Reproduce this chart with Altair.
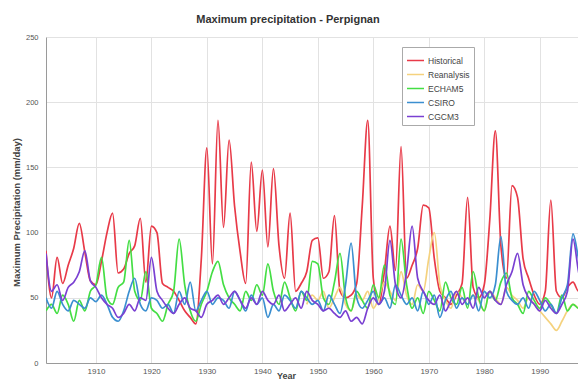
import altair as alt
import pandas as pd

years = list(range(1901, 2000))

historical = [86, 50, 81, 61, 75, 88, 107, 85, 63, 60,
              78, 100, 115, 69, 72, 84, 90, 111, 62, 105,
              100, 61, 58, 55, 48, 40, 35, 30, 80, 165,
              76, 186, 104, 171, 120, 85, 61, 154, 101, 148,
              89, 149, 90, 65, 115, 55, 61, 70, 94, 96,
              65, 70, 113, 55, 50, 52, 61, 120, 186, 65,
              45, 70, 105, 71, 166, 65, 75, 88, 121, 119,
              80, 55, 50, 45, 52, 61, 127, 58, 50, 60,
              110, 178, 90, 65, 136, 127, 80, 65, 52, 45,
              55, 125, 55, 50, 58, 62, 55, 58, 50]

echam5 = [40, 45, 38, 52, 45, 32, 48, 40, 55, 60,
          81, 50, 45, 58, 62, 94, 55, 48, 70, 42,
          38, 32, 45, 55, 95, 60, 40, 32, 45, 55,
          70, 78, 60, 50, 45, 40, 55, 48, 60, 52,
          76, 55, 45, 62, 50, 40, 55, 48, 78, 76,
          50, 45, 62, 84, 50, 40, 55, 48, 42, 60,
          50, 75, 52, 45, 95, 60, 42, 50, 38, 55,
          48, 40, 62, 50, 45, 58, 42, 70, 50, 40,
          55, 48, 62, 69, 50, 45, 38, 55, 48, 42,
          50, 45, 38, 52, 40, 45, 42, 45, 40]

csiro = [50, 42, 55, 45, 40, 48, 45, 42, 50, 47,
         52, 45, 35, 32, 40, 55, 65, 45, 40, 50,
         48, 42, 45, 38, 55, 45, 62, 40, 48, 55,
         45, 50, 48, 42, 55, 48, 40, 52, 45, 50,
         35, 45, 40, 52, 48, 42, 55, 50, 45, 48,
         40, 52, 45, 38, 60, 92, 50, 42, 48, 55,
         45, 50, 42, 60, 52, 45, 50, 40, 55, 45,
         52, 35, 48, 55, 42, 50, 45, 52, 40, 55,
         50, 60, 97, 55, 48, 45, 50, 42, 55, 48,
         40, 45, 38, 50, 60, 99, 80, 60, 55]

cgcm3 = [84, 55, 60, 48, 58, 62, 70, 86, 63, 58,
         50, 45, 42, 35, 38, 45, 40, 50, 48, 81,
         55, 48, 42, 38, 45, 50, 42, 40, 35, 45,
         48, 52, 45, 50, 55, 48, 42, 50, 45, 55,
         48, 45, 52, 40, 45, 50, 42, 55, 48, 45,
         40, 42, 38, 35, 40, 32, 35, 30, 42, 50,
         45, 55, 94, 60, 50, 70, 105, 65, 55, 48,
         45, 52, 40, 48, 55, 45, 50, 42, 58, 50,
         55, 48, 45, 60, 70, 84, 60, 50, 45, 40,
         48, 42, 38, 45, 55, 95, 70, 55, 50]

rean_years = list(range(1948, 2000))
reanalysis = [45, 52, 48, 55, 42, 50, 58, 45, 40, 52,
              48, 55, 42, 50, 62, 55, 48, 70, 52, 45,
              60, 55, 80, 100, 60, 48, 42, 55, 50, 45,
              52, 48, 40, 55, 50, 45, 58, 52, 48, 42,
              50, 45, 40, 35, 30, 25, 32, 40, 45, 42, 40, 45]

series_names = ["Historical", "Reanalysis", "ECHAM5", "CSIRO", "CGCM3"]
series_colors = ["#e83a48", "#f5d27e", "#44de44", "#3b8fd0", "#7a40d2"]
x_ticks = [1910, 1920, 1930, 1940, 1950, 1960, 1970, 1980, 1990]
y_ticks = [0, 50, 100, 150, 200, 250]

rows = []
for name, ys, vals in [("Historical", years, historical),
                       ("Reanalysis", rean_years, reanalysis),
                       ("ECHAM5", years, echam5),
                       ("CSIRO", years, csiro),
                       ("CGCM3", years, cgcm3)]:
    for yr, v in zip(ys, vals):
        rows.append({"Year": yr, "Value": v, "Series": name})
df = pd.DataFrame(rows)

font = "Liberation Sans"

chart = alt.Chart(df).mark_line(interpolate="monotone", strokeWidth=1.7, clip=True).encode(
    x=alt.X("Year:Q",
            scale=alt.Scale(domain=[1901, 1996.9], nice=False, zero=False),
            axis=alt.Axis(values=x_ticks, format="d", title="Year", grid=True,
                          gridColor="#e2e2e2", domainColor="#9a9a9a", tickSize=0,
                          labelFont=font, labelFontSize=8, labelColor="#555",
                          labelPadding=4, titleFont=font, titleFontSize=9,
                          titleFontWeight="bold", titleColor="#444",
                          titleX=240, titleY=15, titleBaseline="alphabetic",
                          titleAnchor="middle")),
    y=alt.Y("Value:Q",
            scale=alt.Scale(domain=[0, 250], nice=False),
            axis=alt.Axis(values=y_ticks, title="Maximum Precipitation (mm/day)", grid=True,
                          gridColor="#e2e2e2", domainColor="#9a9a9a", tickSize=0,
                          labelFont=font, labelFontSize=7.5, labelColor="#555",
                          labelPadding=8, titleFont=font, titleFontSize=9.5,
                          titleFontWeight="bold", titleColor="#444",
                          titleX=-25, titleY=175, titleAnchor="middle")),
    color=alt.Color("Series:N",
                    scale=alt.Scale(domain=series_names, range=series_colors),
                    sort=series_names,
                    legend=alt.Legend(orient="none", legendX=356, legendY=10, title=None,
                                      symbolType="stroke", symbolSize=289,
                                      symbolStrokeWidth=1.5, labelFont=font,
                                      labelFontSize=8.5, labelColor="#444",
                                      strokeColor="#aaaaaa", fillColor="white",
                                      padding=4, rowPadding=0, labelOffset=3)),
).properties(
    width=532,
    height=326,
    title=alt.TitleParams("Maximum precipitation - Perpignan", font=font, fontSize=11,
                          fontWeight="bold", color="#333", anchor="middle", offset=8,
                          dx=-24),
    autosize=alt.AutoSizeParams(type="none"),
    padding={"left": 38, "top": 29, "right": 0, "bottom": 16},
).configure_view(stroke=None)

chart.save("out.html", embed_options={"renderer": "svg", "actions": False})
